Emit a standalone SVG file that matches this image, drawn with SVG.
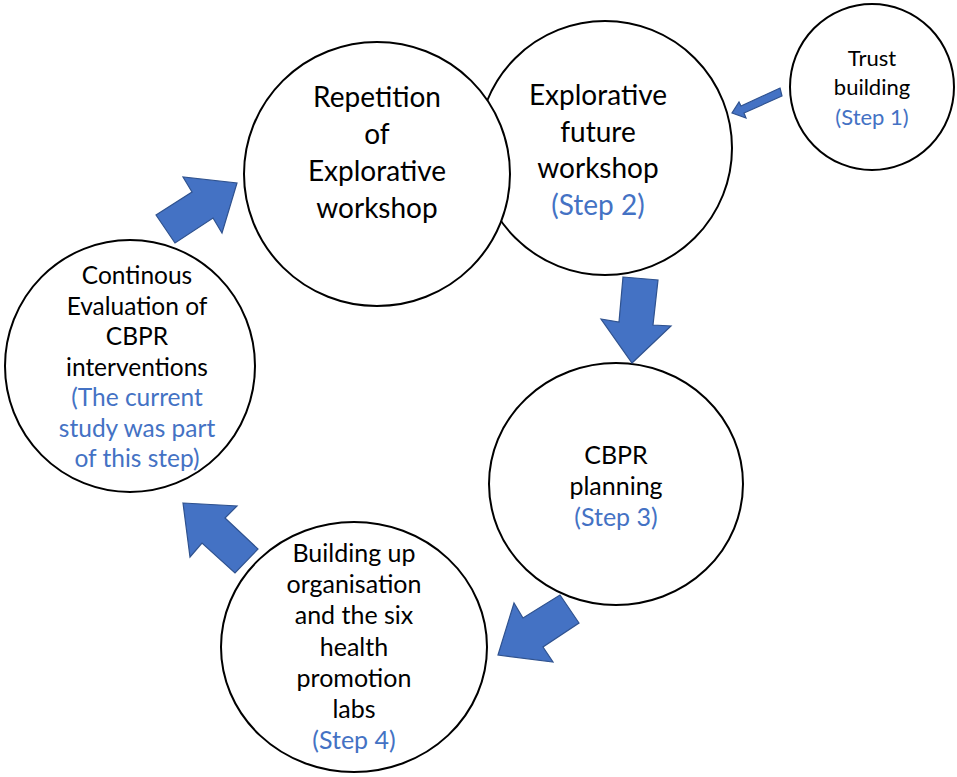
<svg xmlns="http://www.w3.org/2000/svg" width="957" height="777" viewBox="0 0 957 777">
<style>
.c{fill:#fff;stroke:#000;stroke-width:2}
.t{font-family:Lato,"Open Sans",sans-serif;fill:#000;text-anchor:middle}
.b{fill:#4472C4}
.a{fill:#4472C4;stroke:#2F528F;stroke-width:1.2;stroke-linejoin:miter}
</style>
<rect width="957" height="777" fill="#fff"/>
<g id="node-explorative">
<ellipse class="c" cx="605" cy="148" rx="127" ry="127"/>
<text class="t" font-size="28" x="598"><tspan x="598" y="105">Explorative</tspan><tspan x="598" y="142">future</tspan><tspan x="598" y="178">workshop</tspan><tspan class="b" x="598" y="215">(Step 2)</tspan></text>
</g>
<g id="node-repetition">
<ellipse class="c" cx="377" cy="174" rx="133" ry="132"/>
<text class="t" font-size="28" x="377"><tspan x="377" y="107">Repetition</tspan><tspan x="377" y="144">of</tspan><tspan x="377" y="181">Explorative</tspan><tspan x="377" y="218">workshop</tspan></text>
</g>
<g id="node-trust">
<ellipse class="c" cx="872" cy="87" rx="82" ry="83"/>
<text class="t" font-size="22" x="872"><tspan x="872" y="66">Trust</tspan><tspan x="872" y="95">building</tspan><tspan class="b" x="872" y="125">(Step 1)</tspan></text>
</g>
<g id="node-cbpr">
<ellipse class="c" cx="616" cy="484" rx="127" ry="121"/>
<text class="t" font-size="25" x="616"><tspan x="616" y="464">CBPR</tspan><tspan x="616" y="495">planning</tspan><tspan class="b" x="616" y="526">(Step 3)</tspan></text>
</g>
<g id="node-building">
<ellipse class="c" cx="354" cy="647" rx="133" ry="125"/>
<text class="t" font-size="25" x="354"><tspan x="354" y="562">Building up</tspan><tspan x="354" y="593">organisation</tspan><tspan x="354" y="624">and the six</tspan><tspan x="354" y="656">health</tspan><tspan x="354" y="687">promotion</tspan><tspan x="354" y="718">labs</tspan><tspan class="b" x="354" y="749">(Step 4)</tspan></text>
</g>
<g id="node-evaluation">
<ellipse class="c" cx="130" cy="366" rx="125" ry="126"/>
<text class="t" font-size="24.5" x="137"><tspan x="137" y="284">Continous</tspan><tspan x="137" y="315">Evaluation of</tspan><tspan x="137" y="345">CBPR</tspan><tspan x="137" y="376">interventions</tspan><tspan class="b" x="137" y="406">(The current</tspan><tspan class="b" x="137" y="437">study was part</tspan><tspan class="b" x="137" y="467">of this step)</tspan></text>
</g>
<g id="connectors">
<polygon class="a" points="780,88 782,96 744,113 746,118 732,113 739,102 741,106"/>
<polygon class="a" points="623,277 658,280 653,325 671,326 632,363 601,319 619,322"/>
<polygon class="a" points="560,595 579,623 543,647 553,662 498,655 514,603 523,618"/>
<polygon class="a" points="183,503 237,506 225,518 258,549 235,573 202,543 190,557"/>
<polygon class="a" points="156,215 192,192 183,177 237,183 222,233 213,218 175,243"/>
</g>
</svg>
